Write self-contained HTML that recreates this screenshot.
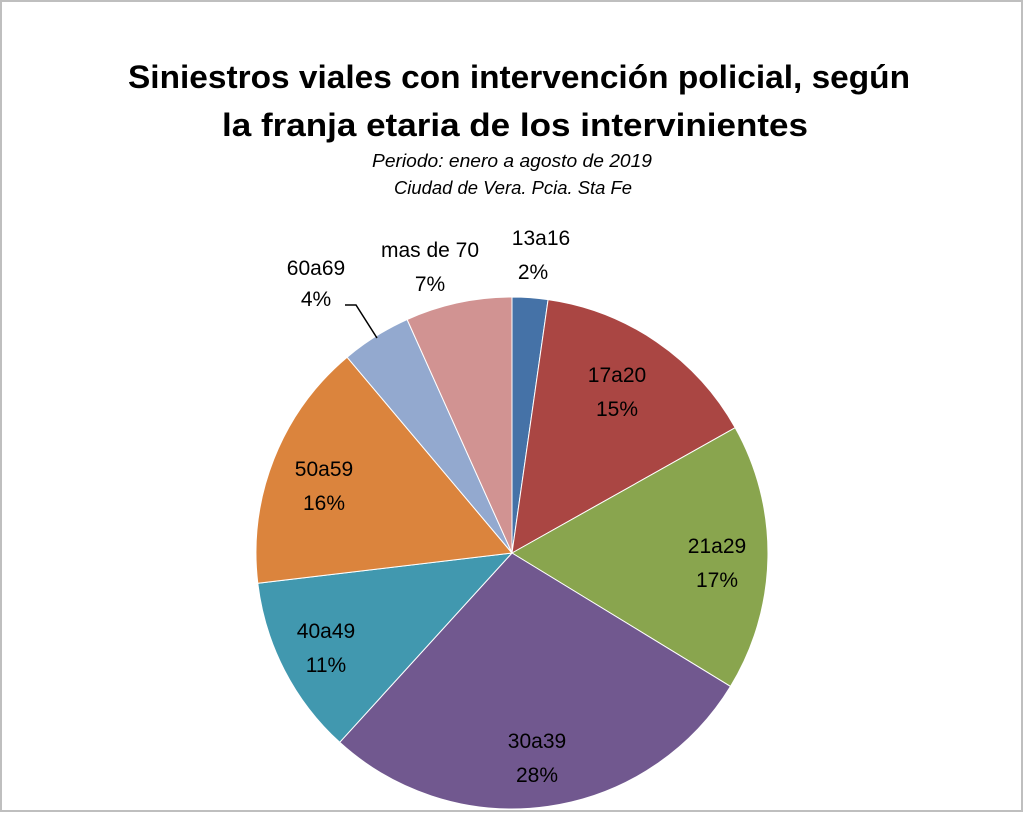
<!DOCTYPE html>
<html><head><meta charset="utf-8"><style>
html,body{margin:0;padding:0;background:#fff}
svg{display:block}
text{font-family:"Liberation Sans",sans-serif;fill:#000}
</style></head><body>
<svg id="s" width="1024" height="813" xmlns="http://www.w3.org/2000/svg">
<rect x="1" y="1" width="1021" height="810" fill="#fff" stroke="#bfbfbf" stroke-width="2"/>
<g id="pie"></g>
<text x="128" y="88" font-size="32" font-weight="bold" textLength="782" lengthAdjust="spacingAndGlyphs">Siniestros viales con intervención policial, según</text>
<text x="222" y="136" font-size="32" font-weight="bold" textLength="586" lengthAdjust="spacingAndGlyphs">la franja etaria de los intervinientes</text>
<text x="372" y="167" font-size="18" font-style="italic" textLength="280" lengthAdjust="spacingAndGlyphs">Periodo: enero a agosto de 2019</text>
<text x="394" y="194" font-size="18" font-style="italic" textLength="238" lengthAdjust="spacingAndGlyphs">Ciudad de Vera. Pcia. Sta Fe</text>
<g font-size="21" text-anchor="middle">
<text x="541" y="245">13a16</text><text x="533" y="279">2%</text>
<text x="430" y="257">mas de 70</text><text x="430" y="291">7%</text>
<text x="316" y="275">60a69</text><text x="316" y="306">4%</text>
<text x="617" y="382">17a20</text><text x="617" y="416">15%</text>
<text x="717" y="553">21a29</text><text x="717" y="587">17%</text>
<text x="537" y="748">30a39</text><text x="537" y="782">28%</text>
<text x="326" y="638">40a49</text><text x="326" y="672">11%</text>
<text x="324" y="476">50a59</text><text x="324" y="510">16%</text>
</g>
<polyline points="345,305 356,305 377,338" fill="none" stroke="#000" stroke-width="1.5"/>
</svg>
<script>
var cx=512,cy=553,r=256;
var b=[0,8.1,60.7,121.4,222.3,263.2,319.9,335.8,360];
var c=["#4572a7","#aa4643","#89a54e","#71588f","#4198af","#db843d","#93a9cf","#d19392"];
var g=document.getElementById("pie"),h="";
function p(a){a=a*Math.PI/180;return (cx+r*Math.sin(a)).toFixed(1)+","+(cy-r*Math.cos(a)).toFixed(1);}
for(var i=0;i<8;i++){var l=(b[i+1]-b[i])>180?1:0;
h+='<path d="M'+cx+','+cy+' L'+p(b[i])+' A'+r+','+r+' 0 '+l+' 1 '+p(b[i+1])+' Z" fill="'+c[i]+'" stroke="#fff" stroke-width="1"/>';}
g.innerHTML=h;
</script>
</body></html>
